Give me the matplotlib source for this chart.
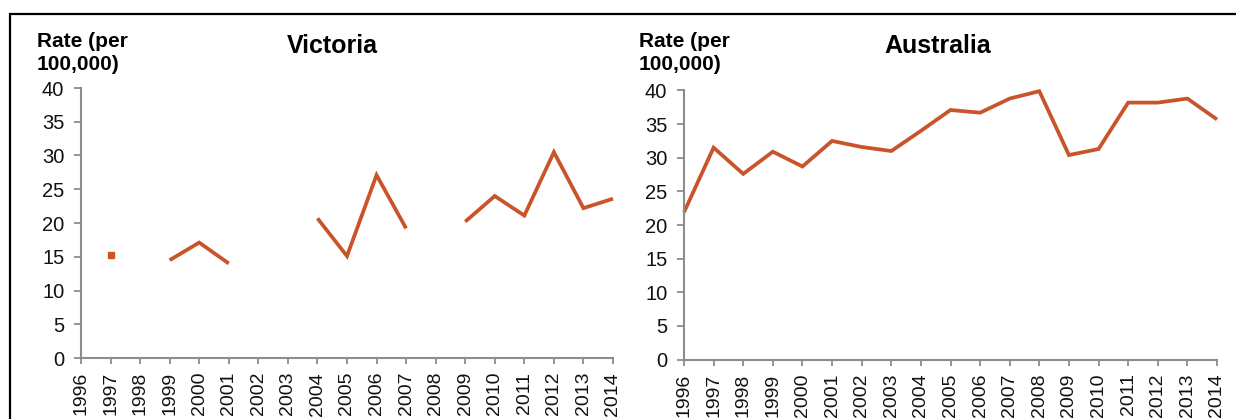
import numpy as np
import matplotlib
matplotlib.use("Agg")
import matplotlib.pyplot as plt
from matplotlib.patches import Rectangle

years = list(range(1996, 2015))
year_labels = [str(y) for y in years]
victoria = [np.nan, 15.2, np.nan, 14.5, 17.1, 14.0, np.nan, np.nan, 20.7, 15.1,
            27.1, 19.2, np.nan, 20.2, 24.0, 21.1, 30.5, 22.2, 23.6]
australia = [21.9, 31.5, 27.6, 30.9, 28.7, 32.5, 31.6, 31.0, 34.0, 37.1,
             36.7, 38.8, 39.9, 30.4, 31.3, 38.2, 38.2, 38.8, 35.7]
titles = ["Victoria", "Australia"]
ylabel = "Rate (per\n100,000)"
yticks = [0, 5, 10, 15, 20, 25, 30, 35, 40]

plt.rcParams['font.family'] = ['Liberation Sans', 'DejaVu Sans']

W, H = 1236, 419
fig = plt.figure(figsize=(W / 100, H / 100), dpi=100)

line_color = '#C9542B'
axis_color = '#8C8C8C'

# outer frame
fig.patches.append(Rectangle((9.5 / W, -0.05), 1.1, (H - 14) / H + 0.05,
                             transform=fig.transFigure, fill=False,
                             edgecolor='black', linewidth=1.6, zorder=0))

axes_px = [(81, 88, 613, 358), (684, 90.5, 1217, 359.5)]
title_x = [332, 938]
label_x = [37, 639]

for i, (data, (x0, y0, x1, y1)) in enumerate(zip([victoria, australia], axes_px)):
    ax = fig.add_axes([x0 / W, (H - y1) / H, (x1 - x0) / W, (y1 - y0) / H])
    arr = np.array(data, dtype=float)
    ax.plot(years, arr, color=line_color, linewidth=2.7, solid_capstyle='butt',
            solid_joinstyle='miter', clip_on=False)
    # isolated points shown as small square markers
    for k in range(len(arr)):
        prev_nan = k == 0 or np.isnan(arr[k - 1])
        next_nan = k == len(arr) - 1 or np.isnan(arr[k + 1])
        if not np.isnan(arr[k]) and prev_nan and next_nan:
            ax.plot([years[k]], [arr[k]], marker='s', markersize=4.5,
                    color=line_color, linestyle='none')
    ax.set_xlim(years[0], years[-1])
    ax.set_ylim(0, 40)
    ax.set_yticks(yticks)
    ax.set_xticks(years)
    ax.set_xticklabels(year_labels, rotation=90, fontsize=14)
    ax.set_yticklabels([str(t) for t in yticks], fontsize=14.5)
    for s in ['top', 'right']:
        ax.spines[s].set_visible(False)
    for s in ['left', 'bottom']:
        ax.spines[s].set_color(axis_color)
        ax.spines[s].set_linewidth(1.5)
    ax.tick_params(axis='y', direction='out', length=5, width=1.3,
                   color=axis_color, pad=7, labelcolor='#111111')
    ax.tick_params(axis='x', direction='out', length=4, width=1.3,
                   color=axis_color, pad=6, labelcolor='#111111')
    ax.set_facecolor('none')
    fig.text(title_x[i] / W, 1 - 46 / H, titles[i], ha='center', va='center',
             fontsize=18, fontweight='bold')
    fig.text(label_x[i] / W, 1 - 32 / H, ylabel, ha='left', va='top',
             fontsize=15, fontweight='bold', linespacing=1.3)

fig.savefig('out.png', dpi=100)
